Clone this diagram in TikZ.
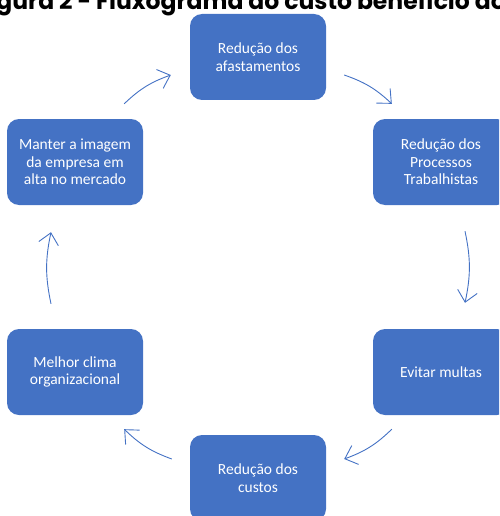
\documentclass[tikz,border=0pt]{standalone}
\usepackage{fontspec}
\setmainfont{Carlito}
\newfontfamily\titlefont{Poppins}
\usetikzlibrary{arrows.meta}
\definecolor{boxblue}{RGB}{68,114,196}
\tikzset{
  stepbox/.style={fill=boxblue, rounded corners=12pt, text=white, align=center,
                  minimum width=136pt, minimum height=86pt, inner sep=2pt,
                  font=\fontsize{15.5}{17.5}\selectfont},
  flow/.style={boxblue, line width=0.9pt, -{Straight Barb[length=11pt,width=20pt]}},
}
\begin{document}
\begin{tikzpicture}[x=1pt, y=-1pt]
\useasboundingbox (0,0) rectangle (499,516);
\clip (0,0) rectangle (499,516);

% Title (cut off at the top)
\node[anchor=base east, inner sep=0pt, font=\titlefont\bfseries\fontsize{23.5}{27}\selectfont]
     (title) at (506,10) {Figura 2 - Fluxograma do custo benefício do};

% Boxes
\node[stepbox] (top) at (258,57) {Redução dos\\afastamentos};
\node[stepbox] (rtop) at (441,162) {Redução dos\\Processos\\Trabalhistas};
\node[stepbox] (rbot) at (441,372) {Evitar multas};
\node[stepbox] (bot) at (258,478) {Redução dos\\custos};
\node[stepbox] (lbot) at (75,372) {Melhor clima\\organizacional};
\node[stepbox] (ltop) at (75,162) {Manter a imagem\\da empresa em\\alta no mercado};

% Cycle arrows
\draw[flow] ([shift={(18,18)}]top.east) to[bend left=12] ([shift={(19,-15)}]rtop.north west);
\draw[flow] ([shift={(24,26)}]rtop.south) to[bend left=12] ([shift={(24,-26)}]rbot.north);
\draw[flow] ([shift={(19,14)}]rbot.south west) to[bend left=12] ([shift={(18,-19)}]bot.east);
\draw[flow] ([shift={(-18,-19)}]bot.west) to[bend left=12] ([shift={(-19,14)}]lbot.south east);
\draw[flow] ([shift={(-24,-25)}]lbot.north) to[bend left=12] ([shift={(-24,27)}]ltop.south);
\draw[flow] ([shift={(-19,-15)}]ltop.north east) to[bend left=12] ([shift={(-19,18)}]top.west);

\end{tikzpicture}
\end{document}
